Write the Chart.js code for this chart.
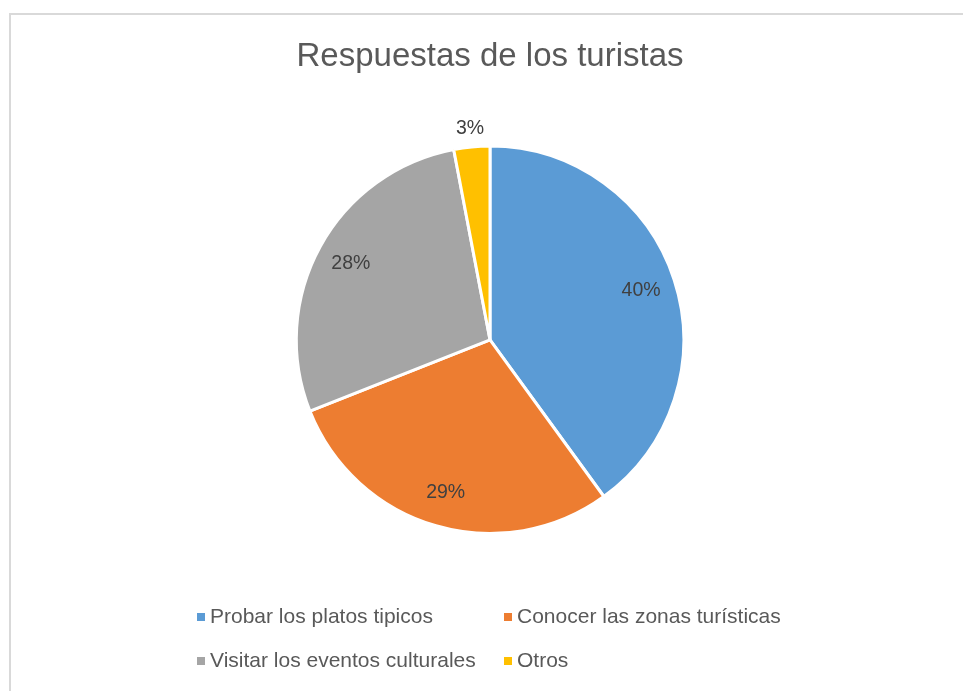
<!DOCTYPE html>
<html>
<head>
<meta charset="utf-8">
<script src="https://cdn.jsdelivr.net/npm/chart.js@4.4.0/dist/chart.umd.min.js"></script>
<style>
  html, body { margin: 0; padding: 0; background: #ffffff; overflow: hidden; }
  #frame { position: absolute; left: 9px; top: 13px; width: 960px; height: 700px; border: 2px solid #d9d9d9; box-sizing: border-box; }
  #wrap { position: absolute; left: 0; top: 0; width: 963px; height: 691px; }
</style>
</head>
<body>
<div id="frame"></div>
<div id="wrap"><canvas id="c" width="963" height="691"></canvas></div>
<script>
const titleText = "Respuestas de los turistas";
const categories = ["Probar los platos tipicos", "Conocer las zonas turísticas", "Visitar los eventos culturales", "Otros"];
const values = [40, 29, 28, 3];
const colors = ["#5B9BD5", "#ED7D31", "#A5A5A5", "#FFC000"];

const FONT = "'Liberation Sans', Arial, sans-serif";

const labelPlugin = {
  id: 'pieLabels',
  afterDatasetsDraw(chart) {
    const ctx = chart.ctx;
    const meta = chart.getDatasetMeta(0);
    const data = chart.data.datasets[0].data;
    const total = data.reduce((a, b) => a + b, 0);
    ctx.save();
    ctx.font = "19.5px " + FONT;
    ctx.fillStyle = "#404040";
    ctx.textAlign = "center";
    ctx.textBaseline = "middle";
    meta.data.forEach((arc, i) => {
      const p = arc.getProps(['x', 'y', 'startAngle', 'endAngle', 'outerRadius'], true);
      const mid = (p.startAngle + p.endAngle) / 2;
      const pct = data[i] / total;
      const d = pct < 0.05 ? p.outerRadius + 18 : p.outerRadius * 0.82;
      const x = p.x + Math.cos(mid) * d;
      const y = p.y + Math.sin(mid) * d;
      ctx.fillText(Math.round(pct * 100) + "%", x, y);
    });
    ctx.restore();
  }
};

const legendPlugin = {
  id: 'gridLegend',
  afterDraw(chart) {
    const ctx = chart.ctx;
    const cols = [197, 504];
    const rows = [617, 661];
    ctx.save();
    ctx.font = "21px " + FONT;
    ctx.textBaseline = "middle";
    ctx.textAlign = "left";
    chart.data.labels.forEach((lab, i) => {
      const x = cols[i % 2];
      const y = rows[Math.floor(i / 2)];
      ctx.fillStyle = chart.data.datasets[0].backgroundColor[i];
      ctx.fillRect(x, y - 4, 8, 8);
      ctx.fillStyle = "#595959";
      ctx.fillText(lab, x + 13, y);
    });
    ctx.restore();
  }
};

new Chart(document.getElementById('c'), {
  type: 'pie',
  data: {
    labels: categories,
    datasets: [{
      data: values,
      backgroundColor: colors,
      borderColor: "#ffffff",
      borderWidth: 3
    }]
  },
  options: {
    responsive: false,
    animation: false,
    layout: { padding: { left: 200, right: 183, top: 0, bottom: 156 } },
    plugins: {
      legend: { display: false },
      tooltip: { enabled: false },
      title: {
        display: true,
        text: titleText,
        color: "#595959",
        font: { family: FONT, size: 33, weight: 'normal', lineHeight: 1.2 },
        padding: { top: 37, bottom: 68 }
      }
    }
  },
  plugins: [labelPlugin, legendPlugin]
});
</script>
</body>
</html>
